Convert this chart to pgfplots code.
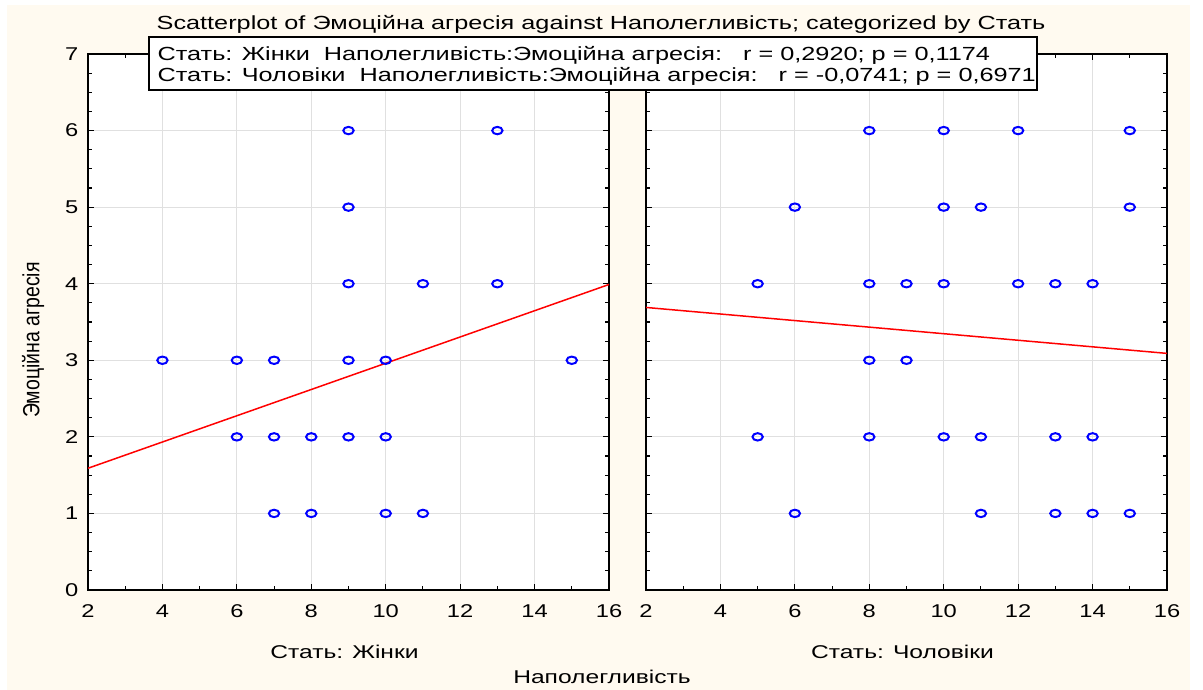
\documentclass[border=0pt]{standalone}
\usepackage{fontspec}
\setmainfont{Liberation Sans}
\usepackage{pgfplots}
\pgfplotsset{compat=1.18}
\definecolor{cream}{RGB}{255,250,240}
\definecolor{mblue}{RGB}{0,0,255}
\definecolor{mred}{RGB}{255,0,0}
\definecolor{gridc}{RGB}{224,224,224}
\pgfplotsset{
  panel/.style={
    scale only axis, width=521pt, height=536pt,
    xmin=2, xmax=16, ymin=0, ymax=7,
    xtick={2,4,...,16}, minor x tick num=1,
    ytick={0,1,...,7}, minor y tick num=3,
    tick align=inside, major tick length=6pt, minor tick length=4pt,
    every tick/.style={black, line width=1.1pt},
    axis line style={black, line width=1.8pt},
    grid=major, major grid style={gridc, line width=1pt},
    axis background/.style={fill=white},
    /pgf/number format/assume math mode=true,
    tick label style={font=\fontsize{18.5}{18.5}\selectfont, xscale=1.28},
    xticklabel style={yshift=-11pt},
    yticklabel style={xshift=-4pt},
    every axis x label/.style={at={(axis description cs:0.5,0)}, xshift=-4pt, yshift=-62pt, anchor=center, font=\fontsize{18.5}{18.5}\selectfont, xscale=1.33},
  },
  pts/.style={only marks, mark=o, mark size=3.7pt, mark options={mblue, line width=2pt, xscale=1.4}},
  reg/.style={mred, line width=1.5pt, no marks},
}
\begin{document}
\begin{tikzpicture}[x=1pt,y=1pt]
\fill[white] (0,0) rectangle (1203,690);
\fill[cream] (7,0) rectangle (1190,685);
\begin{axis}[panel, at={(88pt,100pt)}, anchor=south west, xlabel={Стать: Жінки}]
\addplot[pts] coordinates {
(9,6) (13,6)
(9,5)
(9,4) (11,4) (13,4)
(4,3) (6,3) (7,3) (9,3) (10,3) (15,3)
(6,2) (7,2) (8,2) (9,2) (10,2)
(7,1) (8,1) (10,1) (11,1)
};
\addplot[reg] coordinates {(2,1.59) (16,3.99)};
\end{axis}
\begin{axis}[panel, at={(646pt,100pt)}, anchor=south west, yticklabels={}, xlabel={Стать: Чоловіки}]
\addplot[pts] coordinates {
(8,6) (10,6) (12,6) (15,6)
(6,5) (10,5) (11,5) (15,5)
(5,4) (8,4) (9,4) (10,4) (12,4) (13,4) (14,4)
(8,3) (9,3)
(5,2) (8,2) (10,2) (11,2) (13,2) (14,2)
(6,1) (11,1) (13,1) (14,1) (15,1)
};
\addplot[reg] coordinates {(2,3.69) (16,3.09)};
\end{axis}
\node[font=\fontsize{19}{19}\selectfont, xscale=1.33] at (601,666) {Scatterplot of Эмоційна агресія against Наполегливість; categorized by Стать};
\draw[black, line width=1.5pt, fill=white] (149,600) rectangle (1037,653);
\node[anchor=west, font=\fontsize{19}{19}\selectfont, xscale=1.33] at (153,635) {Стать: Жінки\ \ Наполегливість:Эмоційна агресія:\ \ \ r = 0,2920; p = 0,1174};
\node[anchor=west, font=\fontsize{19}{19}\selectfont, xscale=1.33] at (153,614) {Стать: Чоловіки\ \ Наполегливість:Эмоційна агресія:\ \ \ r = -0,0741; p = 0,6971};
\node[font=\fontsize{18.5}{18.5}\selectfont, xscale=1.33] at (602,13) {Наполегливість};
\node[rotate=90, font=\fontsize{19.5}{19.5}\selectfont, yscale=1.2] at (33,350) {Эмоційна агресія};
\end{tikzpicture}
\end{document}
